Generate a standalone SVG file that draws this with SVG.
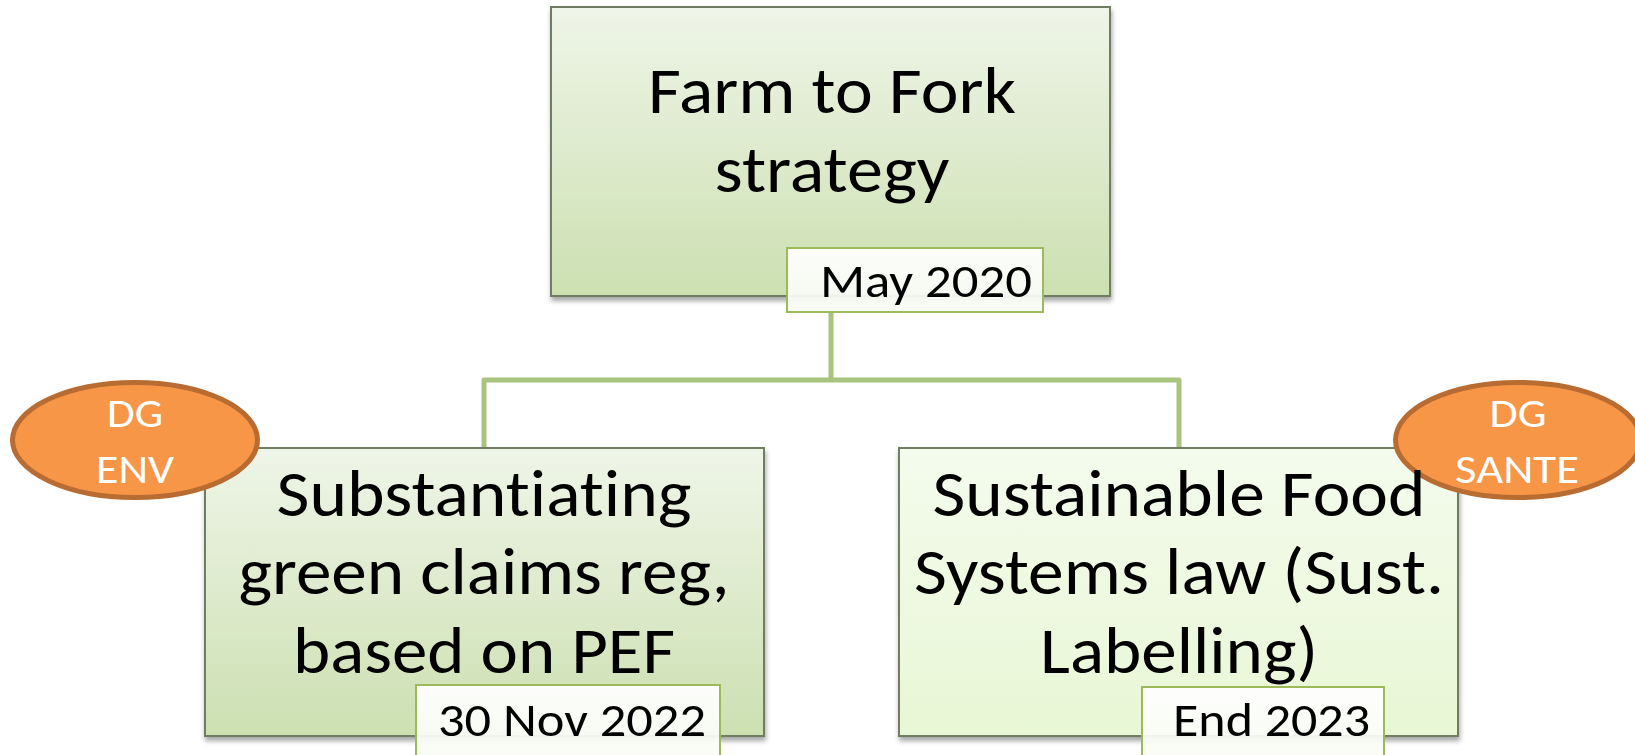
<svg xmlns="http://www.w3.org/2000/svg" width="1635" height="755" viewBox="0 0 1635 755">
  <style>
    text { font-variant-ligatures: none; }
    .box { stroke: #6f7d63; stroke-width: 2; filter: url(#shadow); }
    .main { font-family: Carlito, Lato, "Open Sans", sans-serif; font-size: 65px; fill: #000; text-anchor: middle; }
    .date-box { fill: url(#gDate); stroke: #9bbb59; stroke-width: 2; }
    .date { font-family: Carlito, Lato, "Open Sans", sans-serif; font-size: 47px; fill: #000; text-anchor: end; }
    .dg { fill: #f79646; stroke: #b86c32; stroke-width: 5; }
    .dgt { font-family: Carlito, Lato, "Open Sans", sans-serif; font-size: 42px; fill: #fff; text-anchor: middle; }
    .conn { fill: none; stroke: #a9c47f; stroke-width: 5; stroke-linejoin: round; }
  </style>
  <defs>
    <linearGradient id="gGreen" x1="0" y1="0" x2="0" y2="1">
      <stop offset="0" stop-color="#eff5e8"/>
      <stop offset="1" stop-color="#cce0b1"/>
    </linearGradient>
    <linearGradient id="gLime" x1="0" y1="0" x2="0" y2="1">
      <stop offset="0" stop-color="#f4fbed"/>
      <stop offset="1" stop-color="#e8f7d5"/>
    </linearGradient>
    <linearGradient id="gDate" x1="0" y1="0" x2="0" y2="1">
      <stop offset="0" stop-color="#ffffff" stop-opacity="0.95"/>
      <stop offset="1" stop-color="#f8fbf3" stop-opacity="0.92"/>
    </linearGradient>
    <filter id="shadow" x="-5%" y="-5%" width="110%" height="115%">
      <feDropShadow dx="1" dy="4" stdDeviation="2.5" flood-color="#000" flood-opacity="0.35"/>
    </filter>
  </defs>
  <rect width="1635" height="755" fill="#fff"/>

  <g id="connectors">
    <path class="conn" d="M831,312 V380 M484,447 V380 H1179 V447"/>
  </g>

  <g id="node-top">
    <rect class="box" x="551" y="7" width="559" height="289" fill="url(#gGreen)"/>
    <text class="main" x="832" y="113" textLength="368" lengthAdjust="spacingAndGlyphs">Farm to Fork</text>
    <text class="main" x="832" y="192" textLength="235" lengthAdjust="spacingAndGlyphs">strategy</text>
    <rect class="date-box" x="787" y="248" width="256" height="64"/>
    <text class="date" x="1032" y="297" textLength="212" lengthAdjust="spacingAndGlyphs">May 2020</text>
  </g>

  <g id="node-left">
    <rect class="box" x="205" y="448" width="559" height="288" fill="url(#gGreen)"/>
    <text class="main" x="484" y="516" textLength="415" lengthAdjust="spacingAndGlyphs">Substantiating</text>
    <text class="main" x="484" y="594" textLength="491" lengthAdjust="spacingAndGlyphs">green claims reg,</text>
    <text class="main" x="484" y="673" textLength="382" lengthAdjust="spacingAndGlyphs">based on PEF</text>
    <rect class="date-box" x="416" y="685" width="304" height="80"/>
    <text class="date" x="706" y="736" textLength="268" lengthAdjust="spacingAndGlyphs">30 Nov 2022</text>
  </g>

  <g id="node-right">
    <rect class="box" x="899" y="448" width="559" height="288" fill="url(#gLime)"/>
    <rect class="date-box" x="1142" y="687" width="242" height="80"/>
    <text class="date" x="1370" y="736" textLength="197" lengthAdjust="spacingAndGlyphs">End 2023</text>
  </g>

  <g id="dg-env">
    <ellipse class="dg" cx="135" cy="440" rx="122.5" ry="57.5"/>
    <text class="dgt" x="135" y="427" textLength="56" lengthAdjust="spacingAndGlyphs">DG</text>
    <text class="dgt" x="135" y="483" textLength="78" lengthAdjust="spacingAndGlyphs">ENV</text>
  </g>

  <g id="dg-sante">
    <ellipse class="dg" cx="1518" cy="440" rx="122.5" ry="57.5"/>
    <text class="dgt" x="1518" y="427" textLength="57" lengthAdjust="spacingAndGlyphs">DG</text>
    <text class="dgt" x="1517" y="483" textLength="124" lengthAdjust="spacingAndGlyphs">SANTE</text>
  </g>

  <g id="node-right-text">
    <text class="main" x="1179" y="516" textLength="493" lengthAdjust="spacingAndGlyphs">Sustainable Food</text>
    <text class="main" x="1179" y="594" textLength="530" lengthAdjust="spacingAndGlyphs">Systems law (Sust.</text>
    <text class="main" x="1179" y="673" textLength="278" lengthAdjust="spacingAndGlyphs">Labelling)</text>
  </g>
</svg>
